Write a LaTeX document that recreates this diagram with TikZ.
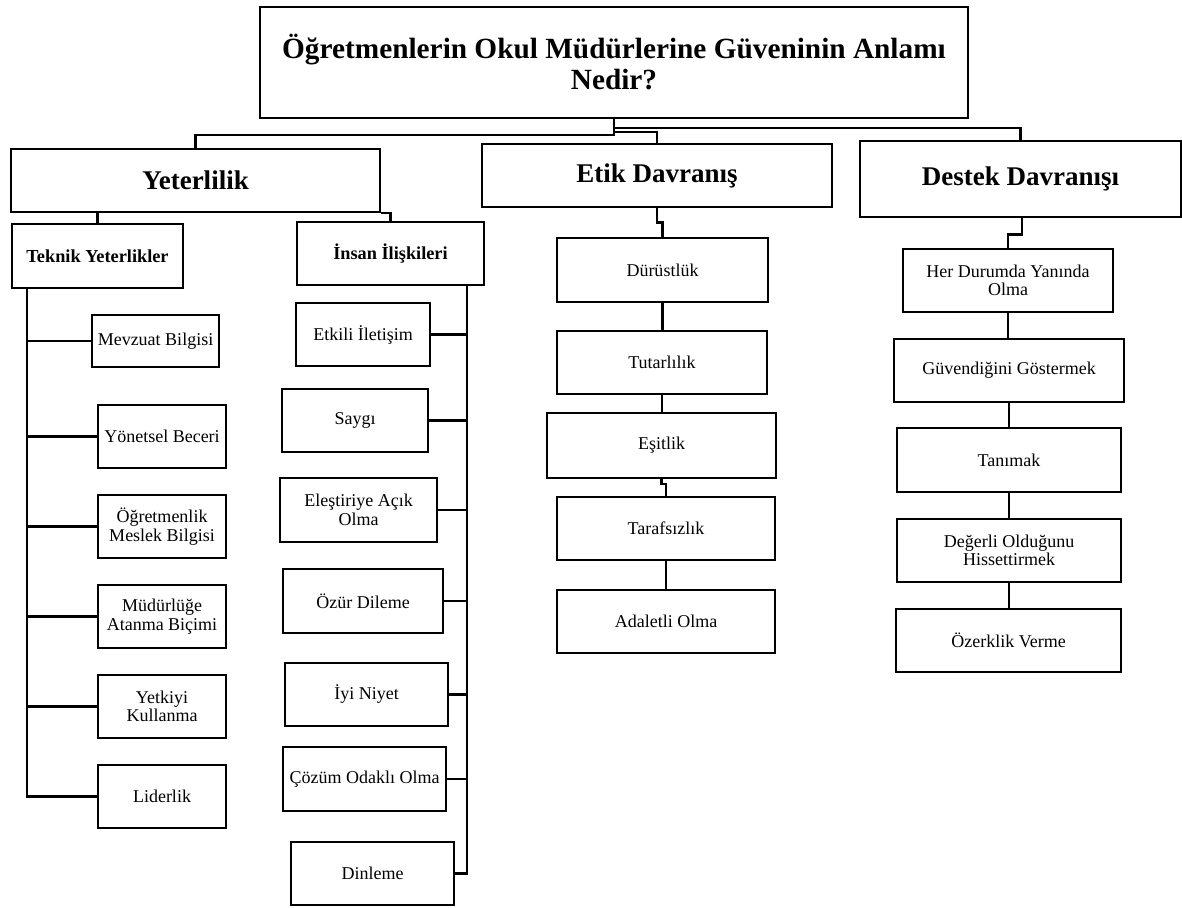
\documentclass[tikz,border=0pt]{standalone}
\usepackage{fontspec}
\setmainfont{Liberation Serif}
\usetikzlibrary{calc}
\newcommand\fTitle{\fontsize{29.3}{31}\selectfont\bfseries}
\newcommand\fHead{\fontsize{27}{30}\selectfont\bfseries}
\newcommand\fSub{\fontsize{18.3}{20}\selectfont\bfseries}
\newcommand\fItem{\fontsize{18}{18.4}\selectfont}
\begin{document}
\begin{tikzpicture}[x=1pt,y=-1pt,
  box/.style={draw, line width=2.2pt, inner sep=0pt, align=center, fill=white},
  titlebox/.style={box, font=\fTitle},
  headbox/.style={box, font=\fHead},
  subbox/.style={box, font=\fSub},
  itembox/.style={box, font=\fItem},
  conn/.style={line width=2.2pt}]
\useasboundingbox (0,0) rectangle (1182,907);

% top level
\node[titlebox, minimum width=708pt, minimum height=111pt] (title) at (614,62.5) {Öğretmenlerin Okul Müdürlerine Güveninin Anlamı\\Nedir?};

\node[headbox, minimum width=369pt, minimum height=63pt] (yeter) at (195.5,180.5) {Yeterlilik};
\node[headbox, minimum width=350pt, minimum height=63pt] (etik) at (657,175.5) {Etik Davranış};
\node[headbox, minimum width=321pt, minimum height=76pt] (destek) at (1020.5,179) {Destek Davranışı};

\node[subbox, minimum width=171pt, minimum height=64pt] (teknik) at (97.5,256) {Teknik Yeterlikler};
\node[subbox, minimum width=187pt, minimum height=63pt] (insan) at (390.5,253.5) {İnsan İlişkileri};

% Teknik column
\node[itembox, minimum width=127pt, minimum height=52pt] (mevzuat) at (155.5,341) {Mevzuat Bilgisi};
\node[itembox, minimum width=128pt, minimum height=63pt] (yonetsel) at (162,436.5) {Yönetsel Beceri};
\node[itembox, minimum width=128pt, minimum height=63pt] (meslek) at (162,526.5) {Öğretmenlik\\Meslek Bilgisi};
\node[itembox, minimum width=128pt, minimum height=63pt] (atanma) at (162,616.5) {Müdürlüğe\\Atanma Biçimi};
\node[itembox, minimum width=128pt, minimum height=63pt] (yetki) at (162,706.5) {Yetkiyi\\Kullanma};
\node[itembox, minimum width=128pt, minimum height=63pt] (lider) at (162,796.5) {Liderlik};

% Insan column
\node[itembox, minimum width=134pt, minimum height=63pt] (iletisim) at (363,334.5) {Etkili İletişim};
\node[itembox, minimum width=146pt, minimum height=63pt] (saygi) at (355,420.5) {Saygı};
\node[itembox, minimum width=157pt, minimum height=64pt] (elestiri) at (358.5,510) {Eleştiriye Açık\\Olma};
\node[itembox, minimum width=160pt, minimum height=64pt] (ozur) at (363,601) {Özür Dileme};
\node[itembox, minimum width=163pt, minimum height=63pt] (niyet) at (366.5,694.5) {İyi Niyet};
\node[itembox, minimum width=163pt, minimum height=64pt] (cozum) at (364.5,779) {Çözüm Odaklı Olma};
\node[itembox, minimum width=163pt, minimum height=63pt] (dinle) at (372.5,873.5) {Dinleme};

% Etik column
\node[itembox, minimum width=211pt, minimum height=64pt] (durust) at (662.5,270) {Dürüstlük};
\node[itembox, minimum width=210pt, minimum height=63pt] (tutar) at (662,362.5) {Tutarlılık};
\node[itembox, minimum width=229pt, minimum height=65pt] (esit) at (661.5,445.5) {Eşitlik};
\node[itembox, minimum width=218pt, minimum height=63pt] (taraf) at (666,528.5) {Tarafsızlık};
\node[itembox, minimum width=218pt, minimum height=63pt] (adalet) at (666,621.5) {Adaletli Olma};

% Destek column
\node[itembox, minimum width=210pt, minimum height=63pt] (yaninda) at (1008,280.5) {Her Durumda Yanında\\Olma};
\node[itembox, minimum width=230pt, minimum height=63pt] (guven) at (1009,370.5) {Güvendiğini Göstermek};
\node[itembox, minimum width=224pt, minimum height=64pt] (tanimak) at (1009,460) {Tanımak};
\node[itembox, minimum width=224pt, minimum height=63pt] (degerli) at (1009,550.5) {Değerli Olduğunu\\Hissettirmek};
\node[itembox, minimum width=225pt, minimum height=63pt] (ozerk) at (1008.5,640.5) {Özerklik Verme};

% connectors top
\draw[conn] (title.south) -- ++(0,16) -| (yeter.north);
\draw[conn] (title.south) ++(0,9) -| (destek.north);
\draw[conn] (title.south) ++(0,13) -| (etik.north);

\draw[conn] (teknik.north) -- (teknik.north |- yeter.south);
\draw[conn] (yeter.south east) -| (insan.north);

% Teknik trunk
\coordinate (tk) at ([xshift=16pt]teknik.south west);
\draw[conn] (tk) |- (lider.west);
\foreach \n in {mevzuat,yonetsel,meslek,atanma,yetki}
  \draw[conn] (\n.west) -- (\n.west -| tk);

% Insan trunk
\coordinate (ik) at ([xshift=-18pt]insan.south east);
\draw[conn] (ik) |- (dinle.east);
\foreach \n in {iletisim,saygi,elestiri,ozur,niyet,cozum}
  \draw[conn] (\n.east) -- (\n.east -| ik);

% Etik chain
\draw[conn] (etik.south) |- ($(etik.south)!.5!(durust.north)$) -| (durust.north);
\draw[conn] (durust.south) -- (durust.south |- tutar.north);
\draw[conn] (tutar.south) -- (tutar.south |- esit.north);
\draw[conn] (esit.south) |- ($(esit.south)!.3!(taraf.north)$) -| (taraf.north);
\draw[conn] (taraf.south) -- (taraf.south |- adalet.north);

% Destek chain
\draw[conn] ([xshift=1.5pt]destek.south) |- ($([xshift=1.5pt]destek.south)!.55!(yaninda.north)$) -| (yaninda.north);
\draw[conn] (yaninda.south) -- (yaninda.south |- guven.north);
\draw[conn] (guven.south) -- (guven.south |- tanimak.north);
\draw[conn] (tanimak.south) -- (tanimak.south |- degerli.north);
\draw[conn] (degerli.south) -- (degerli.south |- ozerk.north);
\end{tikzpicture}
\end{document}
